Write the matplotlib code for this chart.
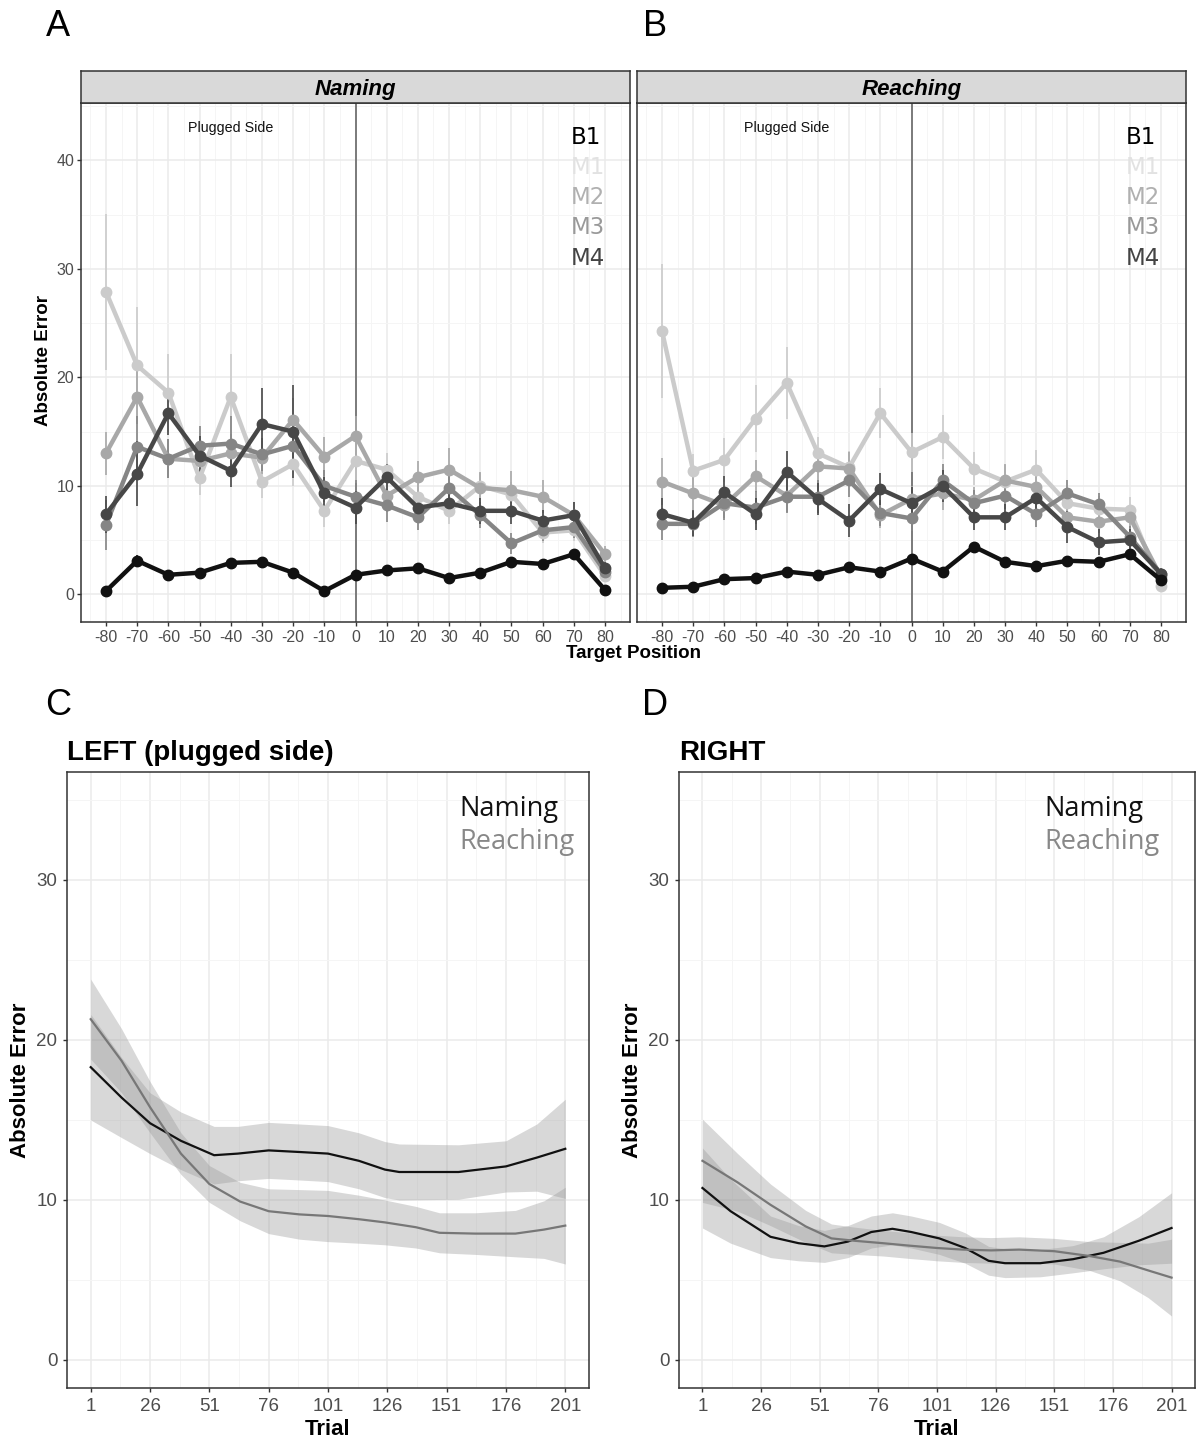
import matplotlib
matplotlib.use("Agg")
import matplotlib.pyplot as plt
import numpy as np

plt.rcParams['font.family'] = ['Liberation Sans', 'DejaVu Sans']
plt.rcParams['axes.unicode_minus'] = False

# ---------------- data: panels A/B ----------------
positions = [-80, -70, -60, -50, -40, -30, -20, -10, 0, 10, 20, 30, 40, 50, 60, 70, 80]
series_names = ['M1', 'M2', 'M3', 'M4', 'B1']

naming_B1 = [0.3, 3.1, 1.8, 2.0, 2.9, 3.0, 2.0, 0.3, 1.8, 2.2, 2.4, 1.5, 2.0, 3.0, 2.8, 3.7, 0.4]
naming_M1 = [27.9, 21.1, 18.6, 10.7, 18.2, 10.4, 12.0, 7.7, 12.3, 11.5, 9.0, 7.7, 10.0, 9.2, 5.7, 5.9, 1.7]
naming_M2 = [13.0, 18.2, 12.5, 12.3, 13.0, 12.6, 16.1, 12.7, 14.6, 9.1, 10.8, 11.5, 9.8, 9.6, 9.0, 7.3, 3.7]
naming_M3 = [6.4, 13.6, 12.5, 13.7, 13.9, 12.9, 13.7, 10.0, 9.0, 8.2, 7.1, 9.8, 7.3, 4.7, 5.9, 6.2, 2.1]
naming_M4 = [7.4, 11.1, 16.7, 12.8, 11.4, 15.7, 15.0, 9.3, 8.0, 10.8, 8.0, 8.4, 7.7, 7.7, 6.8, 7.3, 2.4]

naming_B1_se = [0.4, 0.5, 0.4, 0.3, 0.4, 0.4, 0.3, 0.3, 0.3, 0.3, 0.3, 0.3, 0.3, 0.4, 0.4, 0.4, 0.3]
naming_M1_se = [7.2, 5.4, 3.6, 1.5, 4.0, 1.5, 2.0, 1.5, 2.0, 1.5, 1.5, 1.2, 1.2, 1.2, 1.0, 1.0, 0.6]
naming_M2_se = [2.0, 2.5, 1.8, 1.5, 1.8, 1.5, 2.0, 1.8, 1.8, 1.5, 1.5, 2.0, 1.5, 1.8, 1.5, 1.2, 0.8]
naming_M3_se = [2.3, 2.8, 1.8, 1.8, 2.5, 1.5, 2.0, 1.5, 1.5, 1.5, 1.2, 1.2, 1.2, 1.0, 1.0, 1.0, 0.6]
naming_M4_se = [1.7, 3.0, 2.0, 1.8, 1.5, 3.3, 4.3, 1.5, 1.5, 1.2, 1.2, 1.2, 1.2, 1.2, 1.0, 1.2, 0.6]

reaching_B1 = [0.6, 0.7, 1.4, 1.5, 2.1, 1.8, 2.5, 2.1, 3.3, 2.1, 4.4, 3.0, 2.6, 3.1, 3.0, 3.7, 1.3]
reaching_M1 = [24.3, 11.4, 12.4, 16.2, 19.5, 13.0, 11.7, 16.7, 13.1, 14.5, 11.6, 10.4, 11.5, 8.4, 7.9, 7.8, 0.8]
reaching_M2 = [10.4, 9.3, 8.2, 10.9, 9.1, 11.8, 11.6, 7.3, 8.8, 9.3, 8.7, 10.5, 9.9, 7.1, 6.7, 7.1, 1.6]
reaching_M3 = [6.5, 6.5, 8.4, 8.0, 9.0, 9.0, 10.5, 7.5, 7.0, 10.5, 8.4, 9.1, 7.4, 9.3, 8.3, 5.3, 1.9]
reaching_M4 = [7.4, 6.6, 9.4, 7.4, 11.3, 8.8, 6.8, 9.7, 8.4, 10.0, 7.1, 7.1, 8.9, 6.2, 4.8, 5.0, 1.9]

reaching_B1_se = [0.3, 0.3, 0.3, 0.3, 0.4, 0.3, 0.4, 0.3, 0.4, 0.3, 0.4, 0.3, 0.3, 0.3, 0.3, 0.4, 0.3]
reaching_M1_se = [6.2, 1.5, 2.0, 3.1, 3.3, 1.5, 1.5, 2.3, 1.8, 2.0, 1.5, 1.5, 1.8, 1.2, 1.2, 1.2, 0.5]
reaching_M2_se = [2.2, 1.5, 1.2, 1.5, 1.5, 1.5, 1.5, 1.2, 1.2, 1.5, 1.2, 1.5, 1.2, 1.2, 1.0, 1.0, 0.5]
reaching_M3_se = [1.5, 1.2, 1.5, 1.5, 1.5, 1.5, 1.5, 1.2, 1.2, 1.5, 1.2, 1.2, 1.2, 1.2, 1.0, 1.0, 0.5]
reaching_M4_se = [1.5, 1.2, 1.5, 1.5, 1.9, 1.5, 1.5, 1.5, 1.5, 1.5, 1.2, 1.2, 1.2, 1.5, 1.2, 1.0, 0.5]

# ---------------- data: panels C/D ----------------
left_naming_trial = [1, 14, 26, 39, 53, 63, 76, 89, 101, 114, 125, 131, 156, 176, 189, 201]
left_naming_mean = [18.3, 16.4, 14.8, 13.7, 12.8, 12.9, 13.1, 13.0, 12.9, 12.45, 11.9, 11.75, 11.75, 12.1, 12.65, 13.2]
left_naming_ci = [3.3, 2.5, 1.9, 1.8, 1.8, 1.7, 1.75, 1.75, 1.75, 1.75, 1.75, 1.75, 1.7, 1.6, 2.1, 3.1]

left_reaching_trial = [1, 14, 26, 39, 51, 64, 76, 89, 101, 114, 125, 138, 148, 163, 180, 192, 201]
left_reaching_mean = [21.3, 18.7, 15.8, 12.9, 11.0, 9.9, 9.3, 9.1, 9.0, 8.8, 8.6, 8.3, 7.95, 7.9, 7.9, 8.15, 8.4]
left_reaching_ci = [2.5, 2.0, 1.6, 1.3, 1.15, 1.2, 1.4, 1.55, 1.6, 1.5, 1.4, 1.3, 1.25, 1.3, 1.45, 1.8, 2.4]

right_naming_trial = [1, 13, 30, 42, 53, 63, 73, 82, 90, 102, 113, 123, 130, 145, 159, 172, 187, 201]
right_naming_mean = [10.75, 9.3, 7.7, 7.3, 7.1, 7.4, 8.0, 8.2, 8.0, 7.6, 7.0, 6.2, 6.05, 6.05, 6.3, 6.7, 7.45, 8.25]
right_naming_ci = [2.5, 2.0, 1.3, 1.1, 1.0, 1.0, 1.0, 1.0, 1.0, 1.0, 0.95, 0.9, 0.9, 0.85, 0.85, 1.0, 1.5, 2.2]

right_reaching_trial = [1, 16, 30, 45, 56, 66, 78, 89, 101, 112, 124, 136, 151, 166, 179, 191, 201]
right_reaching_mean = [12.45, 11.1, 9.7, 8.35, 7.6, 7.45, 7.3, 7.15, 7.0, 6.9, 6.85, 6.9, 6.8, 6.5, 6.15, 5.6, 5.15]
right_reaching_ci = [2.6, 1.8, 1.3, 1.0, 0.9, 0.85, 0.8, 0.8, 0.8, 0.8, 0.8, 0.8, 0.8, 0.9, 1.2, 1.7, 2.4]

trial_ticks = [1, 26, 51, 76, 101, 126, 151, 176, 201]

# ---------------- styles ----------------
series_colors = {'M1': '#cbcbcb', 'M2': '#a8a8a8', 'M3': '#858585', 'M4': '#474747', 'B1': '#111111'}
legend_colors = {'B1': '#000000', 'M1': '#e2e2e2', 'M2': '#b0b0b0', 'M3': '#999999', 'M4': '#444444'}
W, H = 1199, 1441
fig = plt.figure(figsize=(W / 100, H / 100), dpi=100)


def fr(x0, y0, x1, y1):
    return [x0 / W, 1 - y1 / H, (x1 - x0) / W, (y1 - y0) / H]


def style_axes(ax):
    for s in ax.spines.values():
        s.set_color('#333333')
        s.set_linewidth(1.1)
    ax.grid(which='major', color='#ebebeb', lw=1.1, zorder=0)
    ax.grid(which='minor', color='#f5f5f5', lw=0.7, zorder=0)
    ax.set_axisbelow(True)
    ax.tick_params(which='major', direction='out', length=3, width=1, color='#333333',
                   labelcolor='#4d4d4d')
    ax.tick_params(which='minor', length=0)


def facet(ax_rect, strip_rect, title, data, errs, show_y):
    ax = fig.add_axes(ax_rect)
    style_axes(ax)
    ax.set_xlim(-88, 88)
    ax.set_ylim(-2.55, 45.3)
    ax.set_xticks(positions)
    ax.set_xticks(np.arange(-85, 90, 10), minor=True)
    ax.set_yticks([0, 10, 20, 30, 40])
    ax.set_yticks([5, 15, 25, 35, 45], minor=True)
    ax.tick_params(axis='x', labelsize=11.5, pad=3)
    ax.tick_params(axis='y', labelsize=11.5, pad=2)
    if not show_y:
        ax.tick_params(axis='y', labelleft=False, length=0)
    ax.axvline(0, color='#7a7a7a', lw=1.4, zorder=1)
    ax.text(-40, 43.0, 'Plugged Side', ha='center', va='center', fontsize=10.3, color='#111111')
    for name in series_names:
        c = series_colors[name]
        y = data[name]
        e = errs[name]
        ax.errorbar(positions, y, yerr=e, fmt='none', ecolor=c, elinewidth=1.2, capsize=0, zorder=2)
        ax.plot(positions, y, '-o', color=c, lw=3.2, ms=7.5, zorder=3)
    sax = fig.add_axes(strip_rect)
    sax.set_xticks([]); sax.set_yticks([])
    sax.set_facecolor('#d9d9d9')
    for s in sax.spines.values():
        s.set_color('#333333'); s.set_linewidth(1.1)
    sax.text(0.5, 0.42, title, ha='center', va='center', fontsize=16, fontweight='bold',
             fontstyle='italic', transform=sax.transAxes)
    return ax


dataA = {'B1': naming_B1, 'M1': naming_M1, 'M2': naming_M2, 'M3': naming_M3, 'M4': naming_M4}
errA = {'B1': naming_B1_se, 'M1': naming_M1_se, 'M2': naming_M2_se, 'M3': naming_M3_se, 'M4': naming_M4_se}
dataB = {'B1': reaching_B1, 'M1': reaching_M1, 'M2': reaching_M2, 'M3': reaching_M3, 'M4': reaching_M4}
errB = {'B1': reaching_B1_se, 'M1': reaching_M1_se, 'M2': reaching_M2_se, 'M3': reaching_M3_se, 'M4': reaching_M4_se}

axA = facet(fr(81, 103, 630, 622), fr(81, 71, 630, 103), 'Naming', dataA, errA, True)
axB = facet(fr(637, 103, 1186, 622), fr(637, 71, 1186, 103), 'Reaching', dataB, errB, False)

leg_order = ['B1', 'M1', 'M2', 'M3', 'M4']
for x0 in (571, 1126):
    for i, name in enumerate(leg_order):
        fig.text(x0 / W, 1 - (137 + 30.3 * i) / H, name, ha='left', va='center',
                 fontsize=16.5, color=legend_colors[name], family=['DejaVu Sans'])

fig.text(633 / W, 1 - 653 / H, 'Target Position', ha='center', va='center',
         fontsize=13.5, fontweight='bold')
fig.text(43 / W, 1 - 360 / H, 'Absolute Error', ha='center', va='center', rotation=90,
         fontsize=13.5, fontweight='bold')


# ---------------- panels C/D ----------------
def trial_panel(rect, title, nt, nm, nc, rt, rm, rc, leg_x):
    ax = fig.add_axes(rect)
    style_axes(ax)
    ax.set_xlim(-9, 211)
    ax.set_ylim(-1.75, 36.75)
    ax.set_xticks(trial_ticks)
    ax.set_xticks([13.5, 38.5, 63.5, 88.5, 113.5, 138.5, 163.5, 188.5], minor=True)
    ax.set_yticks([0, 10, 20, 30])
    ax.set_yticks([5, 15, 25, 35], minor=True)
    ax.tick_params(axis='both', labelsize=13.5, pad=4)
    nm_a = np.array(nm); nc_a = np.array(nc)
    rm_a = np.array(rm); rc_a = np.array(rc)
    ax.fill_between(nt, nm_a - nc_a, nm_a + nc_a, color='#999999', alpha=0.38, lw=0, zorder=1)
    ax.fill_between(rt, rm_a - rc_a, rm_a + rc_a, color='#999999', alpha=0.38, lw=0, zorder=1)
    ax.plot(nt, nm, color='#111111', lw=1.6, zorder=3)
    ax.plot(rt, rm, color='#777777', lw=1.6, zorder=3)
    ax.set_title(title, loc='left', fontsize=20, fontweight='bold', pad=9)
    ax.set_xlabel('Trial', fontsize=16, fontweight='bold', labelpad=3)
    ax.set_ylabel('Absolute Error', fontsize=16, fontweight='bold', labelpad=4)
    fig.text(leg_x / W, 1 - 809 / H, 'Naming', ha='left', va='center', fontsize=19.5,
             color='#111111', family=['Open Sans', 'DejaVu Sans'])
    fig.text(leg_x / W, 1 - 842 / H, 'Reaching', ha='left', va='center', fontsize=19.5,
             color='#888888', family=['Open Sans', 'DejaVu Sans'])
    return ax


axC = trial_panel(fr(67, 772, 589, 1388), 'LEFT (plugged side)',
                  left_naming_trial, left_naming_mean, left_naming_ci,
                  left_reaching_trial, left_reaching_mean, left_reaching_ci, 459)
axD = trial_panel(fr(679, 772, 1195, 1388), 'RIGHT',
                  right_naming_trial, right_naming_mean, right_naming_ci,
                  right_reaching_trial, right_reaching_mean, right_reaching_ci, 1044)

for lab, x, y in [('A', 58, 27), ('B', 655, 27), ('C', 58, 706), ('D', 655, 706)]:
    fig.text(x / W, 1 - y / H, lab, ha='center', va='center', fontsize=26)

fig.savefig('out.png', dpi=100)
